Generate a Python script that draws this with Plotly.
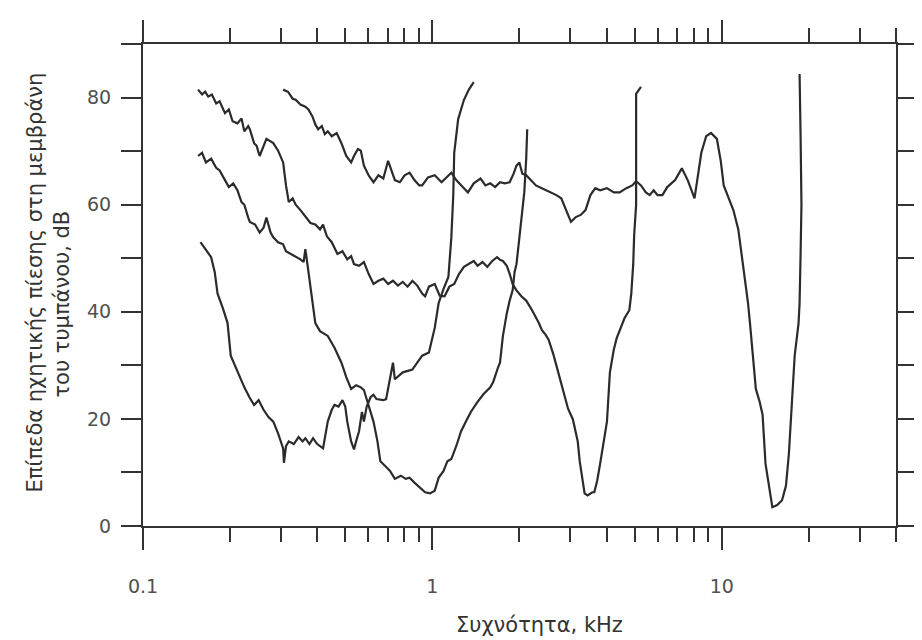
import plotly.graph_objects as go
import numpy as np

# Curve 1 (lowest start, CF ~0.3-0.5 kHz)
freq_1 = [0.158, 0.164, 0.172, 0.177, 0.181, 0.189, 0.196, 0.201, 0.207, 0.212, 0.224, 0.233,
          0.242, 0.251, 0.261, 0.271, 0.282, 0.293, 0.305, 0.307, 0.312, 0.319, 0.332, 0.345,
          0.356, 0.364, 0.376, 0.387, 0.400, 0.419, 0.428, 0.435, 0.449, 0.459, 0.474, 0.489,
          0.500, 0.508, 0.524, 0.536, 0.545, 0.558, 0.571, 0.580, 0.593, 0.612, 0.626, 0.641,
          0.677, 0.692, 0.731, 0.742, 0.790, 0.853, 0.922, 0.973, 1.019, 1.051, 1.093, 1.136,
          1.163, 1.181, 1.190, 1.228, 1.286, 1.337, 1.390]
level_1 = [53.0, 51.7, 50.2, 47.4, 43.4, 40.6, 37.9, 31.8, 30.2, 28.7, 25.9, 24.1,
           22.6, 23.5, 21.7, 20.4, 19.5, 17.3, 14.5, 11.8, 14.9, 15.8, 15.3, 16.6,
           15.8, 16.4, 15.3, 16.4, 15.3, 14.5, 17.7, 19.5, 21.7, 22.6, 22.3, 23.5,
           22.3, 19.5, 15.8, 14.3, 15.8, 17.7, 21.3, 19.5, 22.3, 24.1, 24.5, 23.7,
           23.5, 23.7, 30.5, 27.4, 28.7, 29.2, 31.8, 32.4, 37.0, 41.6, 44.3, 46.5,
           53.9, 61.8, 69.7, 76.0, 79.6, 81.5, 82.9]

# Curve 2 (start ~69 dB, CF ~1 kHz)
freq_2 = [0.155, 0.160, 0.165, 0.172, 0.179, 0.184, 0.192, 0.198, 0.205, 0.212, 0.219, 0.224,
          0.231, 0.234, 0.244, 0.253, 0.261, 0.267, 0.276, 0.282, 0.293, 0.305, 0.312, 0.324,
          0.337, 0.350, 0.359, 0.364, 0.370, 0.379, 0.387, 0.394, 0.409, 0.435, 0.459, 0.485,
          0.504, 0.524, 0.545, 0.566, 0.580, 0.593, 0.612, 0.626, 0.646, 0.661, 0.687, 0.714,
          0.742, 0.778, 0.809, 0.834, 0.867, 0.901, 0.944, 0.981, 1.019, 1.051, 1.093, 1.127,
          1.163, 1.209, 1.257, 1.306, 1.358, 1.433, 1.501, 1.585, 1.623, 1.686, 1.713, 1.753,
          1.780, 1.808, 1.850, 1.894, 1.923, 1.953, 1.999, 2.030, 2.078, 2.110, 2.127]
level_2 = [69.1, 69.7, 67.9, 68.6, 66.9, 66.4, 64.6, 63.3, 64.0, 62.7, 60.5, 60.0,
           57.6, 56.8, 56.3, 54.8, 55.7, 57.6, 54.8, 53.9, 53.0, 52.6, 51.3, 50.8,
           50.2, 49.8, 49.3, 51.7, 48.9, 44.7, 40.6, 37.9, 36.4, 35.5, 33.3, 30.5,
           27.8, 25.6, 26.3, 25.9, 25.4, 23.7, 21.7, 19.5, 15.8, 12.1, 11.2, 10.3,
           8.8, 9.4, 8.8, 9.0, 8.1, 7.2, 6.3, 6.1, 6.6, 9.0, 10.3, 12.1,
           12.5, 14.9, 17.7, 19.5, 21.3, 23.2, 24.6, 25.9, 26.9, 29.6, 30.5, 35.5,
           37.9, 39.7, 42.1, 44.0, 47.4, 48.9, 53.9, 57.2, 62.3, 68.6, 74.1]

# Curve 3 (start ~81 dB, CF ~3.5 kHz)
freq_3 = [0.155, 0.160, 0.164, 0.168, 0.173, 0.179, 0.184, 0.192, 0.198, 0.204, 0.212, 0.219,
          0.224, 0.231, 0.234, 0.242, 0.247, 0.253, 0.267, 0.282, 0.293, 0.305, 0.312, 0.319,
          0.329, 0.337, 0.350, 0.364, 0.379, 0.394, 0.409, 0.419, 0.432, 0.449, 0.470, 0.489,
          0.508, 0.524, 0.536, 0.558, 0.580, 0.602, 0.626, 0.651, 0.677, 0.703, 0.731, 0.760,
          0.790, 0.821, 0.853, 0.887, 0.922, 0.944, 0.973, 1.019, 1.060, 1.102, 1.145, 1.190,
          1.237, 1.286, 1.337, 1.390, 1.433, 1.490, 1.548, 1.610, 1.673, 1.713, 1.753, 1.808,
          1.850, 1.894, 1.953, 2.030, 2.110, 2.211, 2.334, 2.389, 2.464, 2.522, 2.621, 2.725,
          2.832, 2.944, 3.060, 3.132, 3.180, 3.230, 3.306, 3.358, 3.437, 3.572, 3.628, 3.713,
          3.799, 3.921, 4.012, 4.107, 4.236, 4.335, 4.437, 4.612, 4.794, 4.869, 4.944, 4.983,
          5.060, 5.060, 5.060, 5.060, 5.260]
level_3 = [81.5, 80.6, 81.1, 80.2, 80.6, 78.9, 79.3, 77.1, 77.8, 75.6, 75.2, 76.1,
           73.7, 74.7, 74.1, 71.5, 71.0, 69.1, 72.3, 71.5, 70.1, 67.9, 63.6, 60.5,
           61.2, 60.0, 59.0, 57.7, 56.6, 56.3, 55.4, 56.3, 54.1, 53.0, 50.8, 51.3,
           49.8, 50.4, 48.9, 48.6, 49.3, 47.1, 45.2, 45.8, 46.2, 45.2, 45.8, 44.9,
           45.6, 44.7, 45.8, 44.9, 43.4, 42.9, 44.7, 45.2, 43.0, 42.9, 44.7, 45.2,
           47.1, 48.4, 48.9, 49.5, 48.6, 49.3, 48.4, 49.5, 50.2, 49.7, 49.5, 48.6,
           47.1, 45.2, 44.0, 42.9, 42.1, 40.3, 37.9, 36.6, 35.7, 34.8, 32.0, 28.7,
           25.0, 21.9, 19.9, 17.7, 15.8, 12.1, 8.5, 6.1, 5.7, 6.3, 6.3, 8.5,
           11.6, 15.8, 19.5, 28.7, 32.9, 35.1, 36.6, 38.8, 40.3, 43.4, 48.9, 54.4,
           60.0, 67.3, 74.7, 80.7, 82.0]

# Curve 4 (start ~82 dB, CF ~15 kHz)
freq_4 = [0.305, 0.317, 0.329, 0.337, 0.350, 0.364, 0.373, 0.385, 0.394, 0.403, 0.415, 0.425,
          0.435, 0.449, 0.467, 0.485, 0.504, 0.524, 0.536, 0.553, 0.566, 0.580, 0.602, 0.626,
          0.651, 0.677, 0.703, 0.720, 0.742, 0.772, 0.802, 0.834, 0.867, 0.901, 0.922, 0.966,
          1.019, 1.076, 1.119, 1.163, 1.209, 1.257, 1.327, 1.390, 1.467, 1.525, 1.585, 1.648,
          1.713, 1.780, 1.850, 1.909, 1.953, 1.999, 2.046, 2.110, 2.194, 2.280, 2.389, 2.483,
          2.581, 2.683, 2.789, 2.899, 3.013, 3.132, 3.255, 3.383, 3.517, 3.656, 3.799, 4.012,
          4.236, 4.437, 4.683, 4.906, 5.060, 5.260, 5.467, 5.639, 5.818, 6.001, 6.237, 6.484,
          6.899, 7.281, 7.627, 8.053, 8.241, 8.501, 8.837, 9.184, 9.620, 9.922, 10.16, 10.56,
          10.97, 11.41, 11.85, 12.33, 12.52, 12.81, 13.12, 13.52, 13.84, 14.17, 14.61, 14.96,
          15.55, 16.16, 16.67, 17.06, 17.46, 17.87, 18.43, 18.58, 18.73, 18.86, 18.73, 18.58]
level_4 = [81.5, 81.1, 79.8, 79.6, 78.7, 78.3, 77.8, 76.5, 75.0, 74.1, 74.7, 73.2,
           73.7, 72.8, 73.4, 71.5, 69.1, 67.9, 69.1, 70.4, 70.1, 67.3, 65.5, 64.2,
           65.5, 64.9, 68.2, 66.4, 64.6, 64.2, 65.5, 66.0, 64.6, 63.6, 63.6, 65.1,
           65.5, 64.2, 65.1, 66.0, 64.6, 63.6, 62.3, 64.0, 64.9, 63.6, 64.0, 63.3,
           64.2, 64.0, 64.2, 65.8, 67.3, 67.9, 65.8, 65.5, 64.6, 63.6, 63.1, 62.7,
           62.2, 61.8, 61.2, 59.0, 56.8, 57.7, 58.1, 59.0, 61.8, 63.1, 62.7, 63.1,
           62.3, 62.3, 63.1, 63.6, 64.4, 63.6, 62.3, 61.8, 62.7, 61.8, 61.8, 63.3,
           64.6, 66.8, 64.6, 61.2, 64.6, 69.7, 72.8, 73.4, 72.3, 68.2, 63.6, 61.2,
           59.0, 55.4, 48.9, 41.6, 37.9, 32.4, 25.6, 23.2, 20.8, 11.6, 6.6, 3.5,
           3.9, 4.8, 7.5, 13.4, 22.6, 31.8, 37.9, 41.6, 50.8, 60.0, 72.8, 84.4]

x_label_vals = [0.1, 1, 10]
x_label_text = ["0.1", "1", "10"]
x_minor_vals = [0.2, 0.3, 0.4, 0.5, 0.6, 0.7, 0.8, 0.9,
                2, 3, 4, 5, 6, 7, 8, 9, 20, 30, 40]
y_tick_vals = [0, 10, 20, 30, 40, 50, 60, 70, 80, 90]
y_tick_text = ["0", "", "20", "", "40", "", "60", "", "80", ""]

x_title = "Συχνότητα, kHz"
y_title_1 = "Επίπεδα ηχητικής πίεσης στη μεμβράνη"
y_title_2 = "του τυμπάνου, dB"

INK = "#2b2b2b"
AX = "#333333"
FONT = "DejaVu Sans"

fig = go.Figure()
for fx, ly in [(freq_1, level_1), (freq_2, level_2), (freq_3, level_3), (freq_4, level_4)]:
    fig.add_trace(go.Scatter(x=fx, y=ly, mode="lines",
                             line=dict(color=INK, width=2.2), showlegend=False,
                             hoverinfo="skip"))

fig.update_layout(
    width=922, height=640,
    margin=dict(l=135, r=13, t=29, b=122),
    paper_bgcolor="white", plot_bgcolor="white",
    showlegend=False,
    xaxis=dict(
        type="log", range=[-1.0, np.log10(40) + 0.0002],
        tickmode="array", tickvals=x_label_vals, ticktext=x_label_text,
        ticks="outside", ticklen=22, tickwidth=2, tickcolor=AX,
        showline=True, linecolor=AX, linewidth=2, mirror="ticks",
        showgrid=False, zeroline=False,
        tickfont=dict(family=FONT, size=19, color="#505050"),
        ticklabelstandoff=20,
        minor=dict(tickmode="array", tickvals=x_minor_vals, ticks="outside",
                   ticklen=14, tickwidth=2, tickcolor=AX, showgrid=False),
    ),
    yaxis=dict(
        range=[0, 90.02],
        tickmode="array", tickvals=y_tick_vals, ticktext=y_tick_text,
        ticks="outside", ticklen=20, tickwidth=2, tickcolor=AX,
        showline=True, linecolor=AX, linewidth=2, mirror="ticks",
        showgrid=False, zeroline=False,
        tickfont=dict(family=FONT, size=19, color="#505050"),
        ticklabelstandoff=6,
    ),
    annotations=[
        dict(text=x_title, xref="paper", yref="paper", x=0.527, y=-0.205,
             xanchor="center", yanchor="middle", showarrow=False,
             font=dict(family=FONT, size=21, color="#333333")),
        dict(text=y_title_1, xref="paper", yref="paper", x=-0.1434, y=0.505,
             xanchor="center", yanchor="middle", showarrow=False, textangle=-90,
             font=dict(family=FONT, size=21, color="#333333")),
        dict(text=y_title_2, xref="paper", yref="paper", x=-0.1072, y=0.460,
             xanchor="center", yanchor="middle", showarrow=False, textangle=-90,
             font=dict(family=FONT, size=21, color="#333333")),
    ],
)

fig.write_html("out.html")
